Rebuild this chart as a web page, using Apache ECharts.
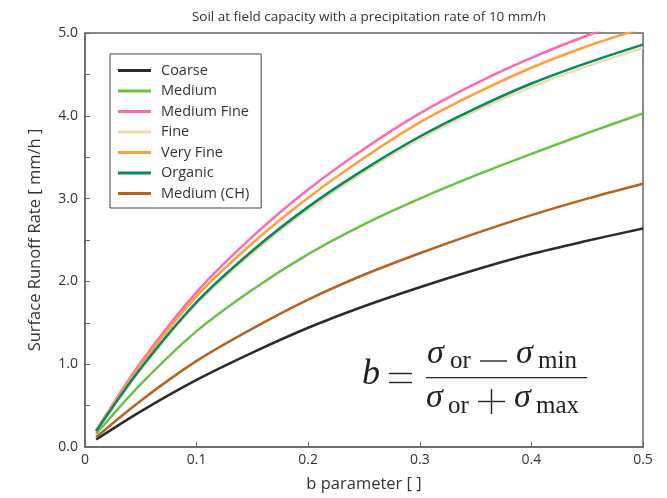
<!DOCTYPE html>
<html>
<head>
<meta charset="utf-8">
<script src="https://cdn.jsdelivr.net/npm/echarts@6/dist/echarts.min.js"></script>
<style>html,body{margin:0;padding:0;background:#fff;}#c{width:667px;height:498px;}</style>
</head>
<body>
<div id="c"></div>
<script>
const bValues = [0.01, 0.05, 0.1, 0.15, 0.2, 0.25, 0.3, 0.35, 0.4, 0.45, 0.5];
const seriesNames = ['Coarse', 'Medium', 'Medium Fine', 'Fine', 'Very Fine', 'Organic', 'Medium (CH)'];
const coarse     = [0.09, 0.43, 0.81, 1.14, 1.44, 1.70, 1.93, 2.14, 2.33, 2.49, 2.64];
const medium     = [0.16, 0.76, 1.40, 1.90, 2.33, 2.69, 3.00, 3.28, 3.54, 3.79, 4.03];
const mediumFine = [0.20, 1.02, 1.87, 2.54, 3.11, 3.60, 4.03, 4.39, 4.70, 4.97, 5.21];
const fine       = [0.19, 0.94, 1.73, 2.34, 2.87, 3.32, 3.72, 4.06, 4.35, 4.60, 4.82];
const veryFine   = [0.20, 0.99, 1.82, 2.46, 3.01, 3.49, 3.92, 4.27, 4.58, 4.84, 5.06];
const organic    = [0.19, 0.95, 1.75, 2.37, 2.90, 3.35, 3.75, 4.09, 4.39, 4.64, 4.86];
const mediumCH   = [0.12, 0.56, 1.04, 1.43, 1.78, 2.08, 2.34, 2.58, 2.80, 3.00, 3.18];
const xTicks = ['0', '0.1', '0.2', '0.3', '0.4', '0.5'];
const yTicks = ['0.0', '1.0', '2.0', '3.0', '4.0', '5.0'];

const allValues = [coarse, medium, mediumFine, fine, veryFine, organic, mediumCH];
const colors = ['#2a2a32', '#66c540', '#ff6aae', '#f5d8a8', '#ffa03a', '#008a68', '#b8621e'];

const chart = echarts.init(document.getElementById('c'), null, {renderer: 'canvas'});
const sans = 'Open Sans';
const serif = 'Liberation Serif';
const txt = '#333';

const series = seriesNames.map((n, i) => ({
  name: n, type: 'line', smooth: 0.3, symbol: 'none', clip: true,
  lineStyle: {color: colors[i], width: 2.5},
  itemStyle: {color: colors[i]},
  data: bValues.map((b, j) => [b, allValues[i][j]])
}));

function tt(text, x, y, size, italic) {
  return {type: 'text', x: x, y: y, z: 100, style: {
    text: text, fontFamily: serif, fontSize: size, fontStyle: italic ? 'italic' : 'normal',
    fill: '#222', align: 'left', verticalAlign: 'middle'}};
}
function ln(x1, y1, x2, y2, w) {
  return {type: 'line', z: 100, shape: {x1: x1, y1: y1, x2: x2, y2: y2}, style: {stroke: '#222', lineWidth: w || 1.4}};
}

chart.setOption({
  animation: false,
  title: {text: 'Soil at field capacity with a precipitation rate of 10 mm/h', left: 364, top: 5, textAlign: 'center',
    textStyle: {fontFamily: sans, fontSize: 13.5, fontWeight: 'normal', color: txt}},
  grid: {left: 85, right: 24, top: 33, bottom: 49, show: true, borderColor: '#666', borderWidth: 1.5, backgroundColor: 'transparent'},
  legend: {
    orient: 'vertical', left: 110, top: 54, data: seriesNames,
    icon: 'rect', itemWidth: 33, itemHeight: 3,
    backgroundColor: '#fff', borderColor: '#444', borderWidth: 1,
    padding: [9, 12, 7, 8], itemGap: 5.5,
    textStyle: {fontFamily: sans, fontSize: 14.5, color: txt, padding: [0, 0, 0, 5]}
  },
  xAxis: {
    type: 'value', min: 0, max: 0.5, interval: 0.1,
    name: 'b parameter [ ]', nameLocation: 'middle', nameGap: 29,
    nameTextStyle: {fontFamily: sans, fontSize: 16.5, color: txt},
    axisLine: {show: true, lineStyle: {color: '#666', width: 1.5}},
    axisTick: {show: true, inside: true, length: 5, lineStyle: {color: '#666'}},
    axisLabel: {fontFamily: sans, fontSize: 14, color: txt, margin: 6,
      formatter: v => xTicks[Math.round(v * 10)]},
    splitLine: {show: false}
  },
  yAxis: {
    type: 'value', min: 0, max: 5, interval: 1,
    name: 'Surface Runoff Rate [ mm/h ]', nameLocation: 'middle', nameGap: 41,
    nameTextStyle: {fontFamily: sans, fontSize: 16.5, color: txt},
    axisLine: {show: true, lineStyle: {color: '#666', width: 1.5}},
    axisTick: {show: true, inside: true, length: 5, lineStyle: {color: '#666'}},
    minorTick: {show: true, splitNumber: 2, length: 5, lineStyle: {color: '#666'}},
    axisLabel: {fontFamily: sans, fontSize: 14, color: txt, margin: 7,
      formatter: v => yTicks[Math.round(v)]},
    splitLine: {show: false}
  },
  graphic: [
    tt('b', 362, 375, 36, true),
    ln(389, 373.5, 412, 373.5), ln(389, 382.5, 412, 382.5),
    tt('σ', 427, 354, 34, true),
    tt('or', 450, 361, 25, false),
    ln(480, 361, 507, 361),
    tt('σ', 516, 354, 34, true),
    tt('min', 538, 361.7, 25, false),
    ln(426, 377.7, 587, 377.7, 1.3),
    tt('σ', 426, 398, 34, true),
    tt('or', 448, 406.7, 25, false),
    ln(478, 401.5, 505, 401.5), ln(491.5, 389, 491.5, 414),
    tt('σ', 514, 398, 34, true),
    tt('max', 536, 406.7, 25, false)
  ],
  series: series
});
</script>
</body>
</html>
